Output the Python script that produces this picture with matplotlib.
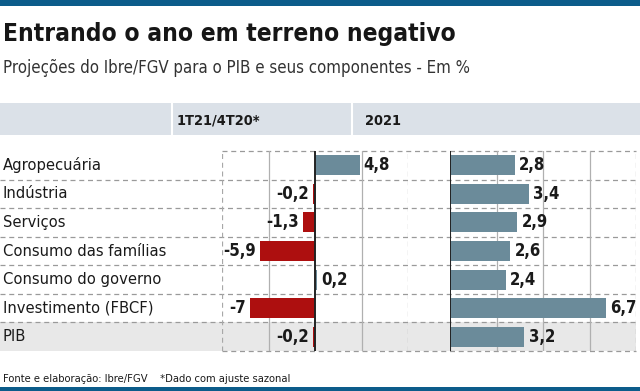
import matplotlib
matplotlib.use('Agg')
import matplotlib.pyplot as plt
from matplotlib import font_manager
from matplotlib.patches import Rectangle

# data
categorias = ['Agropecuária', 'Indústria', 'Serviços', 'Consumo das famílias',
              'Consumo do governo', 'Investimento (FBCF)', 'PIB']
trimestre = [4.8, -0.2, -1.3, -5.9, 0.2, -7.0, -0.2]
ano = [2.8, 3.4, 2.9, 2.6, 2.4, 6.7, 3.2]
titulos_col = ['1T21/4T20*', '2021']

# look for a narrow face, by file name
_files = [f.fname for f in font_manager.fontManager.ttflist]


def find_font(candidates):
    for c in candidates:
        for fn in _files:
            if fn.lower().endswith(c.lower()):
                return font_manager.FontProperties(fname=fn)
    return None


REG = find_font(['LiberationSansNarrow-Regular.ttf', 'DejaVuSansCondensed.ttf'])
BOLD = find_font(['LiberationSansNarrow-Bold.ttf', 'DejaVuSansCondensed-Bold.ttf'])
if REG is None:
    REG = font_manager.FontProperties(family='DejaVu Sans')
if BOLD is None:
    BOLD = font_manager.FontProperties(family='DejaVu Sans', weight='bold')


def fp(base, size):
    p = base.copy()
    p.set_size(size)
    return p


W, H = 640, 391
BLUE_BAR = '#6b8b9a'
RED_BAR = '#ad0f0f'
DARK_BLUE = '#0c5c8a'

fig = plt.figure(figsize=(W / 100, H / 100), dpi=100)
fig.patch.set_facecolor('white')

# background axes in pixel coordinates
bg = fig.add_axes([0, 0, 1, 1])
bg.set_xlim(0, W)
bg.set_ylim(H, 0)
bg.axis('off')

bg.add_patch(Rectangle((0, 0), W, 6, color=DARK_BLUE, lw=0))
bg.add_patch(Rectangle((0, 387), W, 4, color=DARK_BLUE, lw=0))

bg.text(3, 41, 'Entrando o ano em terreno negativo', fontproperties=fp(BOLD, 17.6),
        color='#161616', va='baseline')
bg.text(3, 73, 'Projeções do Ibre/FGV para o PIB e seus componentes - Em %',
        fontproperties=fp(REG, 12.1), color='#333333', va='baseline')

# header band
bg.add_patch(Rectangle((0, 103), W, 32, color='#dbe1e8', lw=0))
for x in (172, 352):
    bg.plot([x, x], [103, 135], color='white', lw=1.5)
bg.text(177, 125, titulos_col[0], fontproperties=fp(BOLD, 10.4),
        color='#1a1a1a', va='baseline')
bg.text(365, 125, titulos_col[1], fontproperties=fp(BOLD, 10.4),
        color='#1a1a1a', va='baseline')

top, bottom = 151, 351
n = len(categorias)
row_h = (bottom - top) / n

# PIB highlighted row
bg.add_patch(Rectangle((0, top + (n - 1) * row_h), 636, row_h, color='#e8e8e8', lw=0))

# row separators
for i in range(1, n):
    y = top + i * row_h
    bg.plot([0, 636], [y, y], color='#9a9a9a', lw=0.9, ls=(0, (4, 3)))
for y in (top, bottom):
    bg.plot([222, 636], [y, y], color='#9a9a9a', lw=0.9, ls=(0, (4, 3)))

for i, cat in enumerate(categorias):
    bg.text(3, top + (i + 0.5) * row_h, cat, fontproperties=fp(REG, 11.8),
            color='#1a1a1a', va='center')

bg.text(3, 379, 'Fonte e elaboração: Ibre/FGV    *Dado com ajuste sazonal',
        fontproperties=fp(REG, 8), color='#1a1a1a', va='center')


def fmt(v):
    return f'{v:g}'.replace('.', ',')


def panel(x0, x1, values, xlim, ticks):
    ax = fig.add_axes([x0 / W, 1 - bottom / H, (x1 - x0) / W, (bottom - top) / H])
    ax.patch.set_alpha(0)
    ax.set_xlim(*xlim)
    ax.set_ylim(n - 0.5, -0.5)
    for s in ax.spines.values():
        s.set_visible(False)
    ax.set_xticks([])
    ax.set_yticks([])
    for t in ticks:
        if t in xlim:
            ax.axvline(t, color='#a8a8a8', lw=0.9, ls=(0, (4, 3)))
        elif t != 0:
            ax.axvline(t, color='#b0b0b0', lw=0.9)
    colors = [BLUE_BAR if v >= 0 else RED_BAR for v in values]
    ax.barh(range(n), values, height=0.7, color=colors, zorder=2)
    ax.axvline(0, color='#222222', lw=1.4, zorder=3)
    for i, v in enumerate(values):
        ax.annotate(fmt(v), (v, i), xytext=(3 if v >= 0 else -3, 0),
                    textcoords='offset points', ha='left' if v >= 0 else 'right',
                    va='center', fontproperties=fp(BOLD, 12),
                    color='#1a1a1a', zorder=4)
    return ax


panel(222, 408, trimestre, (-10, 10), [-10, -5, 0, 5, 10])
panel(450, 636, ano, (0, 8), [0, 2, 4, 6, 8])

fig.savefig('out.png', dpi=100, facecolor='white')
